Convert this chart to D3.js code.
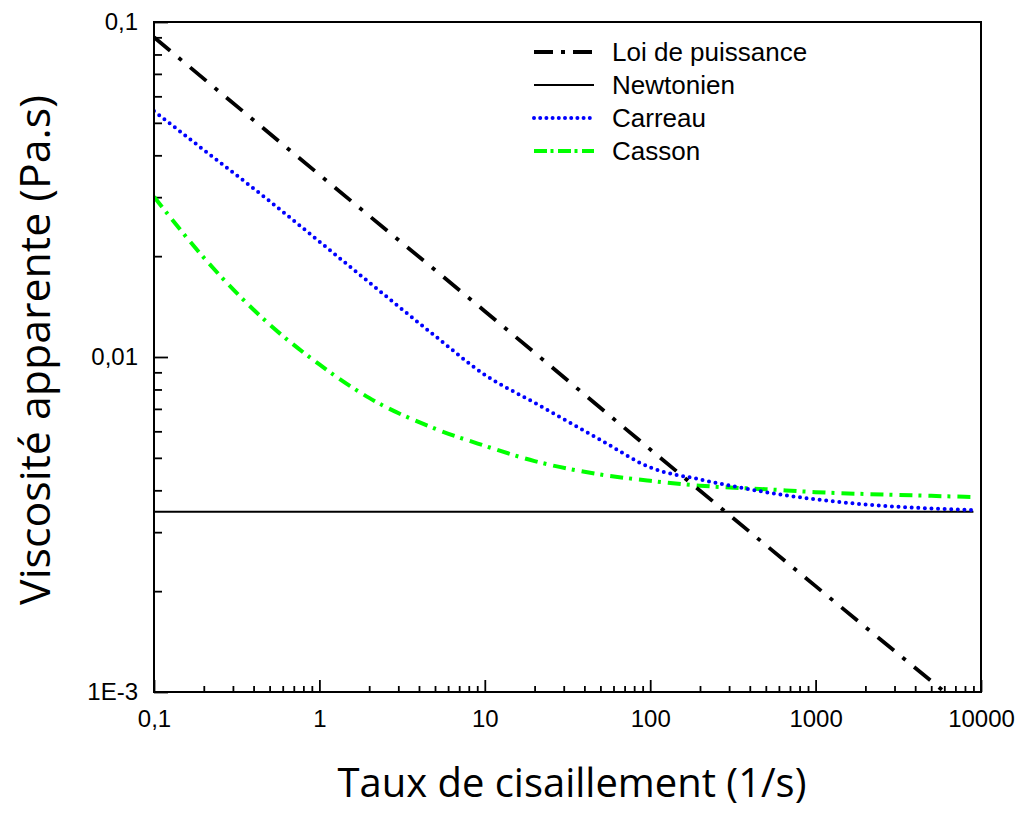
<!DOCTYPE html>
<html>
<head>
<meta charset="utf-8">
<script src="https://cdn.jsdelivr.net/npm/d3@7"></script>
<style>
  html, body { margin: 0; padding: 0; background: #fff; }
  svg { display: block; }
</style>
</head>
<body>
<svg id="chart" width="1019" height="813"></svg>
<script>
// Shear rates (1/s) at which each model curve is sampled
const shearRates = [0.1, 0.2, 0.5, 1, 2, 5, 10, 20, 50, 100, 200, 500, 1000, 2000, 5000, 9000];

// Apparent viscosity (Pa.s) per model
const powerLawRates = [0.1, 1, 10, 100, 1000, 9000];
const powerLaw      = [0.090, 0.035, 0.0137, 0.0053, 0.00207, 0.00085];
const newtonianRates = [0.1, 9000];
const newtonian      = [0.00345, 0.00345];
const carreau = [0.0542, 0.0415, 0.0292, 0.0221, 0.0167, 0.01156, 0.00885, 0.00730,
                 0.00566, 0.00468, 0.00431, 0.00395, 0.00376, 0.00363, 0.00353, 0.00349];
const casson  = [0.0301, 0.0198, 0.0125, 0.0095, 0.00755, 0.00611, 0.00543, 0.00489,
                 0.00446, 0.00427, 0.00413, 0.00403, 0.00395, 0.00390, 0.00385, 0.00382];

// Axis ticks
const xTickValues = [0.1, 1, 10, 100, 1000, 10000];
const xTickLabels = ["0,1", "1", "10", "100", "1000", "10000"];
const yTickValues = [0.1, 0.01, 0.001];
const yTickLabels = ["0,1", "0,01", "1E-3"];

// Legend entries
const seriesNames = ["Loi de puissance", "Newtonien", "Carreau", "Casson"];

const xTitle = "Taux de cisaillement (1/s)";
const yTitle = "Viscosité apparente (Pa.s)";

// ---------------------------------------------------------------
const svg = d3.select("#chart");
const plot = { left: 154, right: 981, top: 22, bottom: 692 };

const x = d3.scaleLog().domain([0.1, 10000]).range([plot.left, plot.right]);
const y = d3.scaleLog().domain([0.001, 0.1]).range([plot.bottom, plot.top]);

const tickFont = "'Liberation Sans', Arial, sans-serif";
const titleFont = "'Open Sans', 'Noto Sans', sans-serif";

// minor ticks: 2..9 within each decade
function minorTicks(lo, hi) {
  const out = [];
  for (let d = lo; d < hi; d *= 10) {
    for (let m = 2; m <= 9; m++) out.push(d * m);
  }
  return out;
}

// X axis (ticks pointing into the plot)
const xMajor = d3.axisBottom(x).tickValues(xTickValues)
  .tickFormat((d, i) => xTickLabels[i]).tickSize(-12).tickPadding(18);
const xMinor = d3.axisBottom(x).tickValues(minorTicks(0.1, 10000))
  .tickFormat("").tickSize(-6);

const gx = svg.append("g").attr("transform", `translate(0,${plot.bottom})`);
gx.append("g").call(xMinor);
gx.append("g").call(xMajor);

// Y axis
const yMajor = d3.axisLeft(y).tickValues(yTickValues)
  .tickFormat((d, i) => yTickLabels[i]).tickSize(-14).tickPadding(16);
const yMinor = d3.axisLeft(y).tickValues(minorTicks(0.001, 0.1))
  .tickFormat("").tickSize(-8);

const gy = svg.append("g").attr("transform", `translate(${plot.left},0)`);
gy.append("g").call(yMinor);
gy.append("g").call(yMajor);

svg.selectAll(".domain").remove();
svg.selectAll(".tick line").attr("stroke", "#000").attr("stroke-width", 1.8);
svg.selectAll(".tick text")
  .attr("fill", "#000")
  .style("font-family", tickFont)
  .style("font-size", "24px");

// Curves, clipped to the plotting frame
svg.append("clipPath").attr("id", "plot-clip")
  .append("rect")
  .attr("x", plot.left).attr("y", plot.top)
  .attr("width", plot.right - plot.left).attr("height", plot.bottom - plot.top);

const curves = svg.append("g").attr("clip-path", "url(#plot-clip)");

const line = d3.line()
  .x(d => x(d[0]))
  .y(d => y(d[1]))
  .curve(d3.curveMonotoneX);

const zip = (xs, ys) => xs.map((v, i) => [v, ys[i]]);

const series = [
  { name: seriesNames[0], pts: zip(powerLawRates, powerLaw), color: "#000", width: 3.8, dash: "21 11 4 11", cap: "butt",
    legendDash: "19 8 4 8" },
  { name: seriesNames[1], pts: zip(newtonianRates, newtonian), color: "#000", width: 2, dash: null, cap: "butt",
    legendDash: null },
  { name: seriesNames[2], pts: zip(shearRates, carreau), color: "#0000ff", width: 4, dash: "0 6.6", cap: "round",
    legendDash: "0 6.2" },
  { name: seriesNames[3], pts: zip(shearRates, casson), color: "#00ff00", width: 4, dash: "13 6 3 7", cap: "butt",
    legendDash: "13 3.5 3 4.5" }
];

// Draw Newtonian first, then the others over it
[1, 3, 2, 0].forEach(i => {
  const s = series[i];
  curves.append("path")
    .attr("d", line(s.pts))
    .attr("fill", "none")
    .attr("stroke", s.color)
    .attr("stroke-width", s.width)
    .attr("stroke-linecap", s.cap)
    .attr("stroke-dasharray", s.dash);
});

// Frame
svg.append("rect")
  .attr("x", plot.left).attr("y", plot.top)
  .attr("width", plot.right - plot.left).attr("height", plot.bottom - plot.top)
  .attr("fill", "none").attr("stroke", "#000").attr("stroke-width", 2);

// Legend
const legend = svg.append("g").attr("transform", "translate(534,52)");
series.forEach((s, i) => {
  const row = legend.append("g").attr("transform", `translate(0,${i * 33})`);
  row.append("line")
    .attr("x1", 0).attr("x2", 60).attr("y1", 0).attr("y2", 0)
    .attr("stroke", s.color)
    .attr("stroke-width", i === 1 ? 1.8 : s.width)
    .attr("stroke-linecap", s.cap)
    .attr("stroke-dasharray", s.legendDash);
  row.append("text")
    .attr("x", 78).attr("y", 0).attr("dy", "0.36em")
    .style("font-family", tickFont)
    .style("font-size", "26px")
    .attr("fill", "#000")
    .text(s.name);
});

// Axis titles, sized to their span
function fitText(sel, target) {
  const base = 40;
  sel.style("font-size", base + "px");
  const w = sel.node().getComputedTextLength();
  sel.style("font-size", (base * target / w) + "px");
}

const xt = svg.append("text")
  .attr("x", 572).attr("y", 797)
  .attr("text-anchor", "middle")
  .style("font-family", titleFont)
  .attr("fill", "#000")
  .text(xTitle);
fitText(xt, 469);

const yt = svg.append("text")
  .attr("transform", "translate(50,350) rotate(-90)")
  .attr("text-anchor", "middle")
  .style("font-family", titleFont)
  .attr("fill", "#000")
  .text(yTitle);
fitText(yt, 510);
</script>
</body>
</html>
